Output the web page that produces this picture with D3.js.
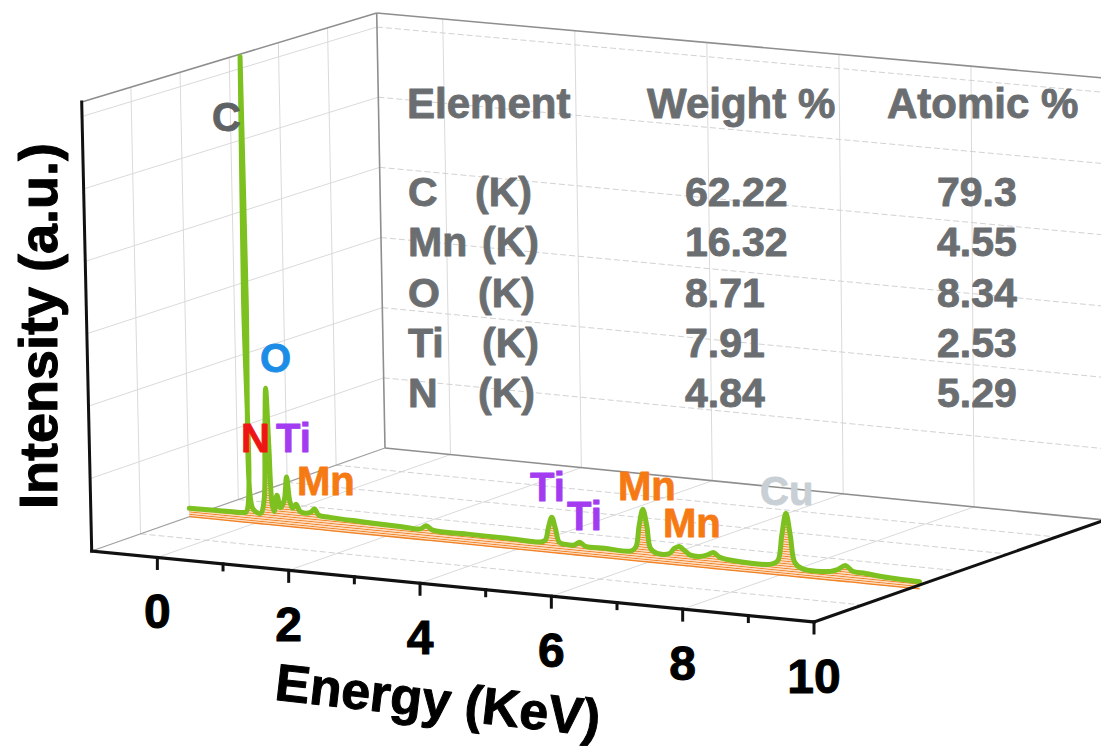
<!DOCTYPE html>
<html>
<head>
<meta charset="utf-8">
<script src="https://cdn.jsdelivr.net/npm/d3@7"></script>
<style>
  html, body { margin: 0; padding: 0; background: #ffffff; }
  svg { display: block; }
  text { font-family: "Liberation Sans", Arial, Helvetica, sans-serif; font-weight: bold; }
</style>
</head>
<body>
<svg id="chart" width="1101" height="746"></svg>
<script>
// ---- EDS spectrum (energy in keV, intensity in counts) ----
const energy = [
  -1.00, -0.61, -0.17, -0.13, -0.108, -0.088, -0.068, -0.04, 0.014, 0.09,
  0.143, 0.174, 0.201, 0.232, 0.265, 0.296, 0.342, 0.395, 0.452, 0.494,
  0.536, 0.578, 0.631, 0.692, 0.776, 0.852, 0.913, 0.974, 1.14, 1.60,
  2.21, 2.52, 2.613, 2.71, 3.28, 3.89, 4.36, 4.43, 4.475, 4.53,
  4.585, 4.64, 4.74, 4.87, 4.95, 5.04, 5.33, 5.74, 5.81, 5.86,
  5.92, 5.98, 6.03, 6.13, 6.32, 6.39, 6.47, 6.55, 6.64, 6.78,
  6.90, 6.99, 7.08, 7.24, 7.87, 7.97, 8.035, 8.10, 8.165, 8.23,
  8.34, 8.77, 8.88, 9.00, 9.11, 9.31, 9.67, 10.13
];
const counts = [
  58, 63, 66, 72, 1600, 3250, 1600, 110, 80, 72,
  160, 560, 950, 560, 150, 95, 210, 125, 180, 345,
  180, 130, 160, 112, 105, 115, 140, 100, 92, 84,
  77, 74, 100, 74, 70, 68, 66, 84, 168, 245,
  168, 77, 66, 68, 91, 66, 66, 66, 98, 245,
  364, 245, 98, 66, 74, 112, 130, 105, 77, 74,
  91, 112, 84, 70, 70, 98, 280, 434, 280, 98,
  60, 60, 77, 112, 77, 70, 56, 49
];

// axis ticks and grid values
const energyTicks = [0, 2, 4, 6, 8, 10];
const energyMinorTicks = [1, 3, 5, 7, 9];
const energyGrid = [0, 2, 4, 6, 8];
const countGrid = [500, 1000, 1500, 2000, 2500, 3000];
const depthGrid = [1, 2, 3, 4, 5];

// composition table
const tableHeader = ["Element", "Weight %", "Atomic %"];
const tableElements = ["C", "Mn", "O", "Ti", "N"];
const tableShell = ["(K)", "(K)", "(K)", "(K)", "(K)"];
const weightPct = ["62.22", "16.32", "8.71", "7.91", "4.84"];
const atomicPct = ["79.3", "4.55", "8.34", "2.53", "5.29"];

// peak annotations
const peakNames = ["C", "O", "N", "Ti", "Mn", "Ti", "Ti", "Mn", "Mn", "Cu"];

// ---- layout ----
const svg = d3.select("#chart");
const W = 1101, H = 746;

const xU = d3.scaleLinear().domain([-1, 10]).range([0, 1]);
const dW = d3.scaleLinear().domain([0, 6]).range([0, 1]);
const zV = d3.scaleLinear().domain([0, 3100]).range([0, 1]);
const zTop = 3100, dBack = 6, spectrumDepth = 2;

// screen corners of the 3D box: front/back, left/right, bottom/top
const box = {
  f: { l: { b: [91.7, 551], t: [81.7, 102] }, r: { b: [814, 622], t: [812, 175] } },
  k: { l: { b: [385, 448], t: [376.7, 13] }, r: { b: [1105, 520], t: [1103, 78] } }
};
function lerp(a, b, t) { return [a[0] + (b[0] - a[0]) * t, a[1] + (b[1] - a[1]) * t]; }
function proj(E, d, I) {
  const u = xU(E), w = dW(d), v = zV(I);
  const fb = lerp(box.f.l.b, box.f.r.b, u), ft = lerp(box.f.l.t, box.f.r.t, u);
  const kb = lerp(box.k.l.b, box.k.r.b, u), kt = lerp(box.k.l.t, box.k.r.t, u);
  return lerp(lerp(fb, kb, w), lerp(ft, kt, w), v);
}
function seg(g, a, b) {
  return g.append("line").attr("x1", a[0]).attr("y1", a[1]).attr("x2", b[0]).attr("y2", b[1]);
}

svg.append("rect").attr("width", W).attr("height", H).attr("fill", "#ffffff");

// hatch for the spectrum wall, parallel to the floor
const floorA = proj(-1, spectrumDepth, 0), floorB = proj(10, spectrumDepth, 0);
const wallAngle = Math.atan2(floorB[1] - floorA[1], floorB[0] - floorA[0]) * 180 / Math.PI;
const defs = svg.append("defs");
const pat = defs.append("pattern").attr("id", "hatch")
  .attr("patternUnits", "userSpaceOnUse").attr("width", 10).attr("height", 2.4)
  .attr("patternTransform", `rotate(${wallAngle})`);
pat.append("rect").attr("width", 10).attr("height", 2.4).attr("fill", "#fff7ef");
pat.append("line").attr("x1", 0).attr("x2", 10).attr("y1", 1.2).attr("y2", 1.2)
  .attr("stroke", "#f28224").attr("stroke-width", 1.2);

// ---- grid ----
const grid = svg.append("g").attr("fill", "none");
const gridSolid = "#dadada", gridDash = "#d2d2d2";
// back wall
energyGrid.forEach(e => seg(grid, proj(e, dBack, 0), proj(e, dBack, zTop)).attr("stroke", gridSolid));
countGrid.forEach(c => seg(grid, proj(-1, dBack, c), proj(10, dBack, c)).attr("stroke", gridDash).attr("stroke-dasharray", "6,3"));
// left wall
depthGrid.forEach(d => seg(grid, proj(-1, d, 0), proj(-1, d, zTop)).attr("stroke", gridSolid));
countGrid.forEach(c => seg(grid, proj(-1, 0, c), proj(-1, dBack, c)).attr("stroke", gridSolid));
// floor
energyGrid.forEach(e => seg(grid, proj(e, 0, 0), proj(e, dBack, 0)).attr("stroke", gridSolid));
depthGrid.forEach(d => seg(grid, proj(-1, d, 0), proj(10, d, 0)).attr("stroke", gridDash).attr("stroke-dasharray", "6,3"));

// box frame (grey edges)
const frame = svg.append("g").attr("stroke", "#8e8e8e").attr("stroke-width", 1.6).attr("fill", "none");
seg(frame, proj(-1, 0, zTop), proj(-1, dBack, zTop));
seg(frame, proj(-1, dBack, 0), proj(-1, dBack, zTop));
seg(frame, proj(-1, dBack, zTop), proj(10, dBack, zTop));
seg(frame, proj(-1, dBack, 0), proj(10, dBack, 0));
seg(frame, proj(-1, 0, 0), proj(-1, dBack, 0)).attr("stroke", "#a0a0a0").attr("stroke-width", 1.2);

// ---- composition table ----
const tableColor = "#6b6e71";
const table = svg.append("g").attr("fill", tableColor)
  .attr("stroke", tableColor).attr("stroke-width", 0.9).attr("stroke-linejoin", "round");
const headerX = [407, 647, 887];
tableHeader.forEach((t, i) => table.append("text").attr("x", headerX[i]).attr("y", 118)
  .attr("font-size", 42).text(t));
const rowY = i => 206 + i * 50.3;
const shellX = [475, 482, 478, 482, 478];
tableElements.forEach((t, i) => {
  table.append("text").attr("x", 408).attr("y", rowY(i)).attr("font-size", 41).text(t);
  table.append("text").attr("x", shellX[i]).attr("y", rowY(i)).attr("font-size", 41).text(tableShell[i]);
  table.append("text").attr("x", 685).attr("y", rowY(i)).attr("font-size", 41).text(weightPct[i]);
  table.append("text").attr("x", 937).attr("y", rowY(i)).attr("font-size", 41).text(atomicPct[i]);
});

// ---- spectrum wall ----
const pts = energy.map((e, i) => proj(e, spectrumDepth, counts[i]));
const base = energy.map(e => proj(e, spectrumDepth, 0));
const topPath = d3.line().curve(d3.curveCatmullRom.alpha(0.5))(pts);
const wallPath = topPath + "L" + base.slice().reverse().map(p => p.join(",")).join("L") + "Z";
const spec = svg.append("g");
spec.append("path").attr("d", wallPath).attr("fill", "url(#hatch)").attr("stroke", "none");
spec.append("path").attr("d", d3.line()(base))
  .attr("fill", "none").attr("stroke", "#f28224").attr("stroke-width", 1.3);
spec.append("path").attr("d", topPath).attr("fill", "none")
  .attr("stroke", "#7cc11f").attr("stroke-width", 5)
  .attr("stroke-linejoin", "round").attr("stroke-linecap", "round");

// ---- peak labels ----
const labelColor = { C: "#5f6265", O: "#1b8de6", N: "#ee1515", Ti: "#a33cf0", Mn: "#f67a14", Cu: "#c8cfd5" };
const labelPos = [[212, 131], [260, 372], [241, 452], [276, 452], [297, 495],
                  [530, 501], [567, 530], [618, 500], [663, 537], [760, 505]];
svg.append("g").selectAll("text").data(peakNames).join("text")
  .attr("x", (d, i) => labelPos[i][0]).attr("y", (d, i) => labelPos[i][1])
  .attr("font-size", 40).attr("fill", d => labelColor[d])
  .attr("stroke", d => labelColor[d]).attr("stroke-width", 0.8).attr("stroke-linejoin", "round")
  .text(d => d);

// ---- axes ----
const axes = svg.append("g").attr("stroke", "#111111").attr("fill", "none").attr("stroke-linecap", "square");
seg(axes, proj(-1, 0, 0), proj(-1, 0, zTop)).attr("stroke-width", 3);
seg(axes, proj(-1, 0, 0), proj(10, 0, 0)).attr("stroke-width", 3.2);
seg(axes, proj(10, 0, 0), proj(10, dBack, 0)).attr("stroke-width", 3);
energyTicks.forEach(e => { const p = proj(e, 0, 0); seg(axes, p, [p[0], p[1] + 11]).attr("stroke-width", 3); });
energyMinorTicks.forEach(e => { const p = proj(e, 0, 0); seg(axes, p, [p[0], p[1] + 6]).attr("stroke-width", 3); });

const axisText = svg.append("g").attr("fill", "#000").attr("stroke", "#000")
  .attr("stroke-width", 1).attr("stroke-linejoin", "round");
axisText.selectAll("text").data(energyTicks).join("text")
  .attr("x", d => proj(d, 0, 0)[0]).attr("y", d => proj(d, 0, 0)[1] + 71)
  .attr("text-anchor", "middle").attr("font-size", 48).text(d => d);

axisText.append("text").attr("transform", `translate(436,718) rotate(6.5)`)
  .attr("text-anchor", "middle").attr("font-size", 52).text("Energy (KeV)");
axisText.append("text").attr("transform", `translate(57,326) rotate(-90)`)
  .attr("text-anchor", "middle").attr("font-size", 54).text("Intensity (a.u.)");
</script>
</body>
</html>
